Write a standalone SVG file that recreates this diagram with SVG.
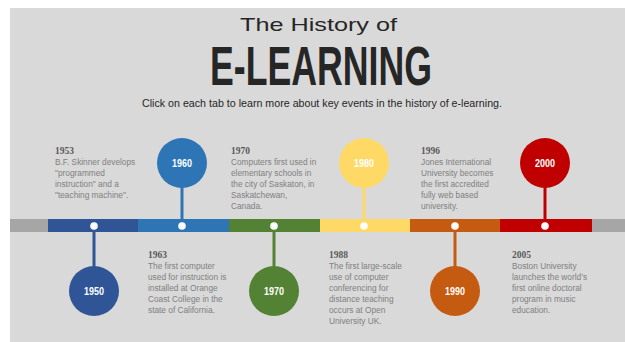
<svg xmlns="http://www.w3.org/2000/svg" width="625" height="342" viewBox="0 0 625 342">
<style>
.bg{fill:#d9d9d9}
.yr{font-family:"Liberation Serif",serif;font-weight:bold;font-size:9.5px;fill:#595959}
.body{font-family:"Liberation Sans",Arial,sans-serif;font-size:8.3px;fill:#808080}
.cl{font-family:"Liberation Sans",Arial,sans-serif;font-weight:bold;font-size:11.5px;fill:#ffffff;text-anchor:middle}
.dot{fill:#ffffff}
.stem{stroke-width:3;fill:none}
</style>
<rect class="bg" x="10" y="8" width="615" height="334"/>
<g id="title">
<text x="318.5" y="30.5" text-anchor="middle" font-family="Liberation Sans, Arial, sans-serif" font-size="19" fill="#262626" textLength="157" lengthAdjust="spacingAndGlyphs">The History of</text>
<text x="321" y="84.5" text-anchor="middle" font-family="Liberation Sans, Arial, sans-serif" font-weight="bold" font-size="55" fill="#262626" textLength="222" lengthAdjust="spacingAndGlyphs">E-LEARNING</text>
<text x="322" y="106.5" text-anchor="middle" font-family="Liberation Sans, Arial, sans-serif" font-size="11" fill="#262626" textLength="360" lengthAdjust="spacingAndGlyphs">Click on each tab to learn more about key events in the history of e-learning.</text>
</g>
<g id="timeline">
<rect x="10" y="219" width="38" height="13" fill="#a6a6a6"/>
<rect x="48" y="219" width="90" height="13" fill="#2f5597"/>
<rect x="138" y="219" width="91" height="13" fill="#2e75b6"/>
<rect x="229" y="219" width="91" height="13" fill="#548235"/>
<rect x="320" y="219" width="90" height="13" fill="#ffd966"/>
<rect x="410" y="219" width="90" height="13" fill="#c55a11"/>
<rect x="500" y="219" width="92" height="13" fill="#c00000"/>
<rect x="592" y="219" width="33" height="13" fill="#a6a6a6"/>
</g>
<g id="connectors">
<line class="stem" x1="94" y1="226" x2="94" y2="268" stroke="#2f5597"/>
<line class="stem" x1="182" y1="226" x2="182" y2="186" stroke="#2e75b6"/>
<line class="stem" x1="274" y1="226" x2="274" y2="268" stroke="#548235"/>
<line class="stem" x1="364" y1="226" x2="364" y2="186" stroke="#ffd966"/>
<line class="stem" x1="455" y1="226" x2="455" y2="268" stroke="#c55a11"/>
<line class="stem" x1="545" y1="226" x2="545" y2="186" stroke="#c00000"/>
</g>
<g id="node-1950">
<circle cx="94" cy="291" r="25" fill="#2f5597"/>
<text class="cl" x="94" y="295" textLength="20" lengthAdjust="spacingAndGlyphs">1950</text>
<circle class="dot" cx="94" cy="226" r="3.8"/>
</g>
<g id="node-1960">
<circle cx="182" cy="163" r="25" fill="#2e75b6"/>
<text class="cl" x="182" y="167" textLength="20" lengthAdjust="spacingAndGlyphs">1960</text>
<circle class="dot" cx="182" cy="226" r="3.8"/>
</g>
<g id="node-1970">
<circle cx="274" cy="291" r="25" fill="#548235"/>
<text class="cl" x="274" y="295" textLength="20" lengthAdjust="spacingAndGlyphs">1970</text>
<circle class="dot" cx="274" cy="226" r="3.8"/>
</g>
<g id="node-1980">
<circle cx="364" cy="163" r="25" fill="#ffd966"/>
<text class="cl" x="364" y="167" textLength="20" lengthAdjust="spacingAndGlyphs">1980</text>
<circle class="dot" cx="364" cy="226" r="3.8"/>
</g>
<g id="node-1990">
<circle cx="455" cy="291" r="25" fill="#c55a11"/>
<text class="cl" x="455" y="295" textLength="20" lengthAdjust="spacingAndGlyphs">1990</text>
<circle class="dot" cx="455" cy="226" r="3.8"/>
</g>
<g id="node-2000">
<circle cx="545" cy="163" r="25" fill="#c00000"/>
<text class="cl" x="545" y="167" textLength="20" lengthAdjust="spacingAndGlyphs">2000</text>
<circle class="dot" cx="545" cy="226" r="3.8"/>
</g>
<g id="event-1953">
<text class="yr" x="55" y="154">1953</text>
<text class="body" x="55" y="165">B.F. Skinner develops</text>
<text class="body" x="55" y="176">"programmed</text>
<text class="body" x="55" y="187">instruction" and a</text>
<text class="body" x="55" y="198">"teaching machine".</text>
</g>
<g id="event-1970">
<text class="yr" x="231" y="154">1970</text>
<text class="body" x="231" y="165">Computers first used in</text>
<text class="body" x="231" y="176">elementary schools in</text>
<text class="body" x="231" y="187">the city of Saskaton, in</text>
<text class="body" x="231" y="198">Saskatchewan,</text>
<text class="body" x="231" y="209">Canada.</text>
</g>
<g id="event-1996">
<text class="yr" x="421" y="154">1996</text>
<text class="body" x="421" y="165">Jones International</text>
<text class="body" x="421" y="176">University becomes</text>
<text class="body" x="421" y="187">the first accredited</text>
<text class="body" x="421" y="198">fully web based</text>
<text class="body" x="421" y="209">university.</text>
</g>
<g id="event-1963">
<text class="yr" x="148" y="258">1963</text>
<text class="body" x="148" y="269">The first computer</text>
<text class="body" x="148" y="280">used for instruction is</text>
<text class="body" x="148" y="291">installed at Orange</text>
<text class="body" x="148" y="302">Coast College in the</text>
<text class="body" x="148" y="313">state of California.</text>
</g>
<g id="event-1988">
<text class="yr" x="329" y="258">1988</text>
<text class="body" x="329" y="269">The first large-scale</text>
<text class="body" x="329" y="280">use of computer</text>
<text class="body" x="329" y="291">conferencing for</text>
<text class="body" x="329" y="302">distance teaching</text>
<text class="body" x="329" y="313">occurs at Open</text>
<text class="body" x="329" y="324">University UK.</text>
</g>
<g id="event-2005">
<text class="yr" x="512" y="258">2005</text>
<text class="body" x="512" y="269">Boston University</text>
<text class="body" x="512" y="280">launches the world’s</text>
<text class="body" x="512" y="291">first online doctoral</text>
<text class="body" x="512" y="302">program in music</text>
<text class="body" x="512" y="313">education.</text>
</g>
</svg>
